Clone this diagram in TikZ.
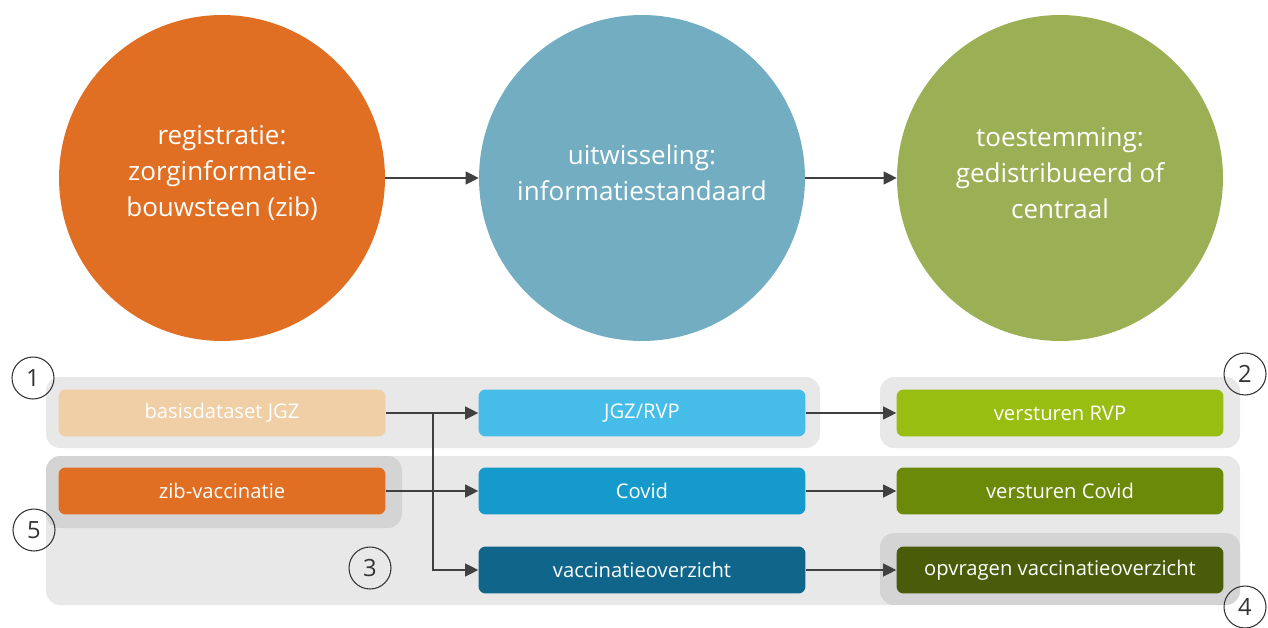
\documentclass[tikz,border=0pt]{standalone}
\usepackage{fontspec}
\setmainfont{Open Sans}
\usetikzlibrary{arrows.meta}
\definecolor{zibOrange}{RGB}{224,110,35}
\definecolor{isBlue}{RGB}{115,173,194}
\definecolor{tsGreen}{RGB}{155,175,85}
\definecolor{peach}{RGB}{240,207,166}
\definecolor{skyBlue}{RGB}{69,189,232}
\definecolor{midBlue}{RGB}{22,154,203}
\definecolor{deepBlue}{RGB}{16,102,138}
\definecolor{limeGreen}{RGB}{153,190,18}
\definecolor{oliveGreen}{RGB}{107,138,10}
\definecolor{darkOlive}{RGB}{74,92,10}
\definecolor{panelGray}{RGB}{232,232,232}
\definecolor{panelDark}{RGB}{212,212,212}
\definecolor{lineGray}{RGB}{64,64,64}
\tikzset{
    bigcircle/.style={circle,minimum size=6.52cm,inner sep=0pt,text=white,align=center,
        font=\fontsize{14.8}{20.5}\selectfont},
    stepbox/.style={rectangle,rounded corners=4pt,minimum width=6.54cm,minimum height=0.94cm,
        inner sep=0pt,text=white,font=\fontsize{11.5}{13}\selectfont},
    numcircle/.style={circle,draw=black!80,line width=0.6pt,minimum size=0.84cm,inner sep=0pt,
        font=\fontsize{13.5}{13.5}\selectfont,text=black!80},
    panel/.style={fill=panelGray,rounded corners=8pt},
    darkpanel/.style={fill=panelDark,rounded corners=8pt},
    flow/.style={draw=lineGray,line width=0.6pt,-{Triangle[length=7.5pt,width=7.5pt]}},
}

\begin{document}
\begin{tikzpicture}[x=0.02cm,y=-0.02cm]
\useasboundingbox (0,0) rectangle (1268,628);
% background panels
\fill[panel] (46,377) rectangle (820,448);
\fill[panel] (880,377) rectangle (1240,448);
\fill[panel] (46,456) rectangle (1240,605);
\fill[darkpanel] (46,456) rectangle (402,528);
\fill[darkpanel] (880,533) rectangle (1240,605);
% circles
\node[bigcircle,fill=zibOrange] (reg) at (222,178) {};
\node[text=white,align=center,font=\fontsize{14.8}{20.5}\selectfont] (regtxt) at (222,173) {registratie:\\zorginformatie-\\bouwsteen (zib)};
\node[bigcircle,fill=isBlue] (uitw) at (642,178) {};
\node[text=white,align=center,font=\fontsize{14.8}{20.5}\selectfont] (uitwtxt) at (642,173) {uitwisseling:\\informatiestandaard};
\node[bigcircle,fill=tsGreen] (toest) at (1060,178) {};
\node[text=white,align=center,font=\fontsize{14.8}{20.5}\selectfont] (toesttxt) at (1060,173) {toestemming:\\gedistribueerd of\\centraal};
\draw[flow] (reg) -- (uitw);
\draw[flow] (uitw) -- (toest);
% boxes
\node[stepbox,fill=peach] (basis) at (222,413) {basisdataset JGZ};
\node[stepbox,fill=zibOrange] (zib) at (222,491) {zib-vaccinatie};
\node[stepbox,fill=skyBlue] (jgz) at (642,413) {JGZ/RVP};
\node[stepbox,fill=midBlue] (covid) at (642,491) {Covid};
\node[stepbox,fill=deepBlue] (overz) at (642,570) {vaccinatieoverzicht};
\node[stepbox,fill=limeGreen] (vrvp) at (1060,413) {versturen RVP};
\node[stepbox,fill=oliveGreen] (vcov) at (1060,491) {versturen Covid};
\node[stepbox,fill=darkOlive] (opvr) at (1060,570) {opvragen vaccinatieoverzicht};
% connectors
\coordinate (split) at (433,413);
\draw[flow] (basis) -- (jgz);
\draw[flow] (split) |- (overz);
\draw[flow] (zib) -- (covid);
\draw[flow] (jgz) -- (vrvp);
\draw[flow] (covid) -- (vcov);
\draw[flow] (overz) -- (opvr);
% numbers
\node[numcircle] (n1) at (33,378) {1};
\node[numcircle] (n2) at (1245,374) {2};
\node[numcircle] (n3) at (370,568) {3};
\node[numcircle] (n4) at (1245,607) {4};
\node[numcircle] (n5) at (34,530) {5};
\end{tikzpicture}
\end{document}
